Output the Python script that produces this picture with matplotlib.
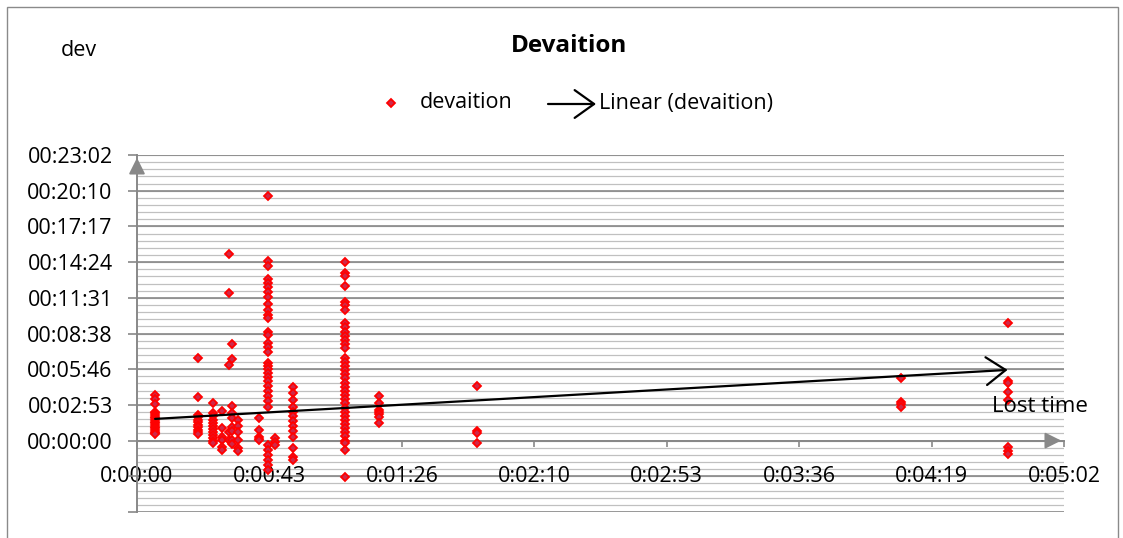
import matplotlib
matplotlib.use('Agg')
import numpy as np
import matplotlib.pyplot as plt
from matplotlib.patches import Rectangle, FancyArrowPatch
from matplotlib.lines import Line2D

plt.rcParams['font.family'] = ['Open Sans', 'DejaVu Sans']

# elapsed time of each group of measurements (seconds)
run_time = [5.9, 19.8, 24.9, 27.8, 29.9, 30.9, 32.8, 39.9, 42.8, 45.0,
            51.0, 67.9, 78.9, 111.0, 249.1, 284.0]

# deviation of each measurement (seconds), one list per group
dev_g01 = [222, 200, 178, 140, 132, 124, 116, 108, 100, 92, 84, 76, 68, 60, 52, 44, 36, 30]
dev_g02 = [402, 210, 124, 112, 100, 88, 76, 64, 52, 40, 30]
dev_g03 = [184, 135, 118, 100, 85, 70, 56, 42, 28, 14, 0, -10]
dev_g04 = [145, 60, 19, 3, -29, -45]
dev_g05 = [903, 713, 366, 44, 3]
dev_g06 = [468, 395, 169, 135, 110, 65, 48, 3, -18]
dev_g07 = [100, 71, 40, 3, -37, -48]
dev_g08 = [108, 52, 19, 8, 3]
dev_g09 = [1186, 871, 846, 783, 762, 742, 718, 694, 662, 633, 608, 592,
           528, 512, 471, 455, 431, 375, 362, 346, 327, 308, 288, 264, 240,
           216, 191, 165, -21, -45, -69, -93, -118, -142]
dev_g10 = [12, -5, -21]
dev_g11 = [261, 229, 197, 165, 140, 118, 95, 72, 48, 19, -37, -77, -93]
dev_g12 = [866, 810, 797, 749, 673, 655, 633, 568, 548, 528, 508, 488, 468,
           449, 400, 380, 360, 340, 320, 303, 279, 260, 240, 220, 200, 180,
           160, 140, 120, 100, 80, 60, 40, 20, 0, -11, -45, -174]
dev_g13 = [218, 184, 149, 138, 127, 116, 87]
dev_g14 = [266, 47, 37, -13]
dev_g15 = [305, 189, 177, 165]
dev_g16 = [571, 290, 281, 234, 197, -32, -48, -64]
deviation = [dev_g01, dev_g02, dev_g03, dev_g04, dev_g05, dev_g06, dev_g07, dev_g08,
             dev_g09, dev_g10, dev_g11, dev_g12, dev_g13, dev_g14, dev_g15, dev_g16]

# linear trend (devaition) : dev = intercept + slope * time
trend_intercept = 100.0
trend_slope = 0.853

DAY = 86400.0
x_major = np.arange(0, 8) * 0.0005 * DAY
y_major = np.arange(-2, 9) * 0.002 * DAY
y_minor = np.arange(-10, 41) * 0.0004 * DAY

W, H = 1123, 538
fig = plt.figure(figsize=(W / 100, H / 100), dpi=100)
ax = fig.add_axes([137 / W, 1 - 512 / H, (1064 - 137) / W, (512 - 155) / H])
ax.set_xlim(0, 0.0035 * DAY)
ax.set_ylim(-0.004 * DAY, 0.016 * DAY)

GRID_MAJ = '#888888'
GRID_MIN = '#c0c0c0'
MARK_FACE = '#d02848'
MARK_EDGE = '#ff0000'

def fmt_y(v):
    s = int(round(v))
    return '%02d:%02d:%02d' % (s // 3600, s % 3600 // 60, s % 60)

def fmt_x(v):
    s = int(round(v))
    return '%d:%02d:%02d' % (s // 3600, s % 3600 // 60, s % 60)

# gridlines
for v in y_minor:
    ax.axhline(v, color=GRID_MIN, lw=0.9, zorder=0)
for v in y_major:
    ax.axhline(v, color=GRID_MAJ, lw=1.2, zorder=0.5)

for s in ax.spines.values():
    s.set_visible(False)
ax.spines['left'].set_visible(True)
ax.spines['left'].set_color(GRID_MAJ)
ax.spines['left'].set_linewidth(1.4)
ax.spines['bottom'].set_visible(True)
ax.spines['bottom'].set_position(('data', 0))
ax.spines['bottom'].set_color(GRID_MAJ)
ax.spines['bottom'].set_linewidth(1.4)

ax.set_yticks(y_major)
ax.set_yticklabels([fmt_y(v) if v >= -1 else '' for v in y_major])
ax.set_xticks(x_major)
ax.set_xticklabels([fmt_x(v) for v in x_major])
ax.tick_params(axis='y', direction='out', length=6.5, width=1.2, color=GRID_MAJ,
               pad=11, labelsize=15.5)
ax.tick_params(axis='x', direction='out', length=4.3, width=1.2, color=GRID_MAJ,
               pad=14, labelsize=15.5)

# axis arrowheads
ax.annotate('', xy=(0, 1.0), xycoords='axes fraction', xytext=(0, 0.96),
            arrowprops=dict(arrowstyle='-|>,head_length=0.7,head_width=0.35',
                            mutation_scale=14, color=GRID_MAJ, lw=1.4), zorder=3)
ax.annotate('', xy=(1.0, 0), xycoords=('axes fraction', 'data'), xytext=(0.98, 0),
            textcoords=('axes fraction', 'data'),
            arrowprops=dict(arrowstyle='-|>,head_length=0.7,head_width=0.35',
                            mutation_scale=14, color=GRID_MAJ, lw=1.4), zorder=3)

# scatter points
for t, devs in zip(run_time, deviation):
    ax.plot([t] * len(devs), devs, linestyle='none', marker='D', markersize=3.6,
            markerfacecolor=MARK_FACE, markeredgecolor=MARK_EDGE, markeredgewidth=1.3,
            zorder=4, clip_on=False)

# trend line with arrow
t0, t1 = min(run_time), max(run_time)
ax.annotate('', xy=(t1, trend_intercept + trend_slope * t1),
            xytext=(t0, trend_intercept + trend_slope * t0),
            arrowprops=dict(arrowstyle='->,head_length=0.7,head_width=0.5',
                            mutation_scale=20, color='black', lw=1.6,
                            shrinkA=0, shrinkB=0), zorder=5)

def fx(px):
    return px / W

def fy(py):
    return 1 - py / H

fig.text(fx(992), fy(407), 'Lost time', fontsize=16, va='center', ha='left')

# titles
fig.text(fx(569), fy(46), 'Devaition', ha='center', va='center', fontsize=17.5,
         fontweight='bold')
fig.text(fx(61), fy(50), 'dev', ha='left', va='center', fontsize=15.5)

# legend
fig.add_artist(Line2D([fx(391)], [fy(103)], marker='D', markersize=3.6,
                      markerfacecolor=MARK_FACE, markeredgecolor=MARK_EDGE,
                      markeredgewidth=1.3, linestyle='none'))
fig.text(fx(420), fy(103), 'devaition', ha='left', va='center', fontsize=15.5)
fig.add_artist(FancyArrowPatch((fx(548), fy(104)), (fx(596), fy(104)),
                               transform=fig.transFigure,
                               arrowstyle='->,head_length=0.7,head_width=0.5',
                               mutation_scale=20, color='black', lw=1.6,
                               shrinkA=0, shrinkB=0))
fig.text(fx(599), fy(103), 'Linear (devaition)', ha='left', va='center', fontsize=15.5)

# chart border
fig.add_artist(Rectangle((fx(7), fy(545)), fx(1118) - fx(7), fy(7) - fy(545),
                         transform=fig.transFigure, fill=False,
                         edgecolor='#8a8a8a', lw=1.0))

fig.savefig('out.png', dpi=100, facecolor='white')
